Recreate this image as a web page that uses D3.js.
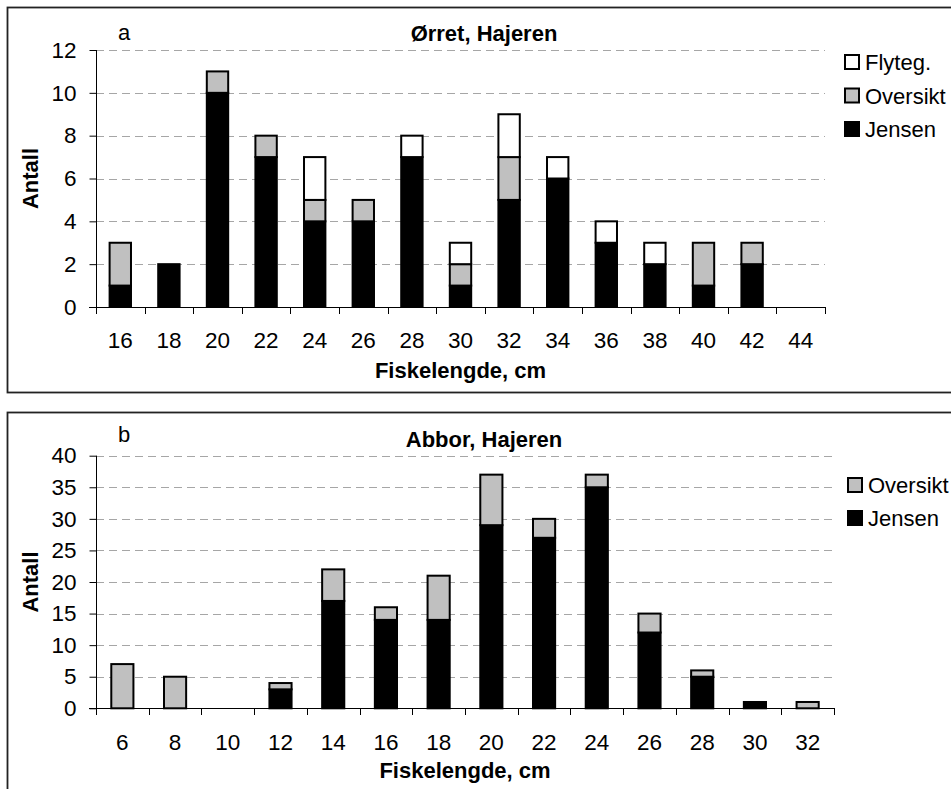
<!DOCTYPE html>
<html>
<head>
<meta charset="utf-8">
<script src="https://cdn.jsdelivr.net/npm/d3@7"></script>
<style>
  html, body { margin: 0; padding: 0; background: #fff; }
  svg { display: block; }
  text { font-family: "Liberation Sans", Arial, sans-serif; fill: #000; }
</style>
</head>
<body>
<svg id="chart" width="951" height="789"></svg>
<script>
// ---------- Data ----------
// Chart a: Ørret, Hajeren
const categoriesA = [16, 18, 20, 22, 24, 26, 28, 30, 32, 34, 36, 38, 40, 42, 44];
const jensenA     = [1, 2, 10, 7, 4, 4, 7, 1, 5, 6, 3, 2, 1, 2, 0];
const oversiktA   = [2, 0, 1, 1, 1, 1, 0, 1, 2, 0, 0, 0, 2, 1, 0];
const flytegA     = [0, 0, 0, 0, 2, 0, 1, 1, 2, 1, 1, 1, 0, 0, 0];
const yTicksA     = [0, 2, 4, 6, 8, 10, 12];

// Chart b: Abbor, Hajeren
const categoriesB = [6, 8, 10, 12, 14, 16, 18, 20, 22, 24, 26, 28, 30, 32];
const jensenB     = [0, 0, 0, 3, 17, 14, 14, 29, 27, 35, 12, 5, 1, 0];
const oversiktB   = [7, 5, 0, 1, 5, 2, 7, 8, 3, 2, 3, 1, 0, 1];
const yTicksB     = [0, 5, 10, 15, 20, 25, 30, 35, 40];

const seriesColors = { "Jensen": "#000000", "Oversikt": "#c0c0c0", "Flyteg.": "#ffffff" };

// ---------- Drawing ----------
const svg = d3.select("#chart");

function drawPanel(cfg) {
  const g = svg.append("g");

  // panel frame
  g.append("rect")
    .attr("x", 7.5).attr("y", cfg.boxTop)
    .attr("width", 1000).attr("height", cfg.boxHeight)
    .attr("fill", "none").attr("stroke", "#222").attr("stroke-width", 1.8);

  const keys = cfg.series.map(s => s.name);
  const rows = cfg.categories.map((c, i) => {
    const r = { cat: c };
    cfg.series.forEach(s => { r[s.name] = s.values[i]; });
    return r;
  });

  const pad = cfg.barPad;
  const x = d3.scaleBand()
    .domain(cfg.categories)
    .range([cfg.left, cfg.right])
    .paddingInner(pad).paddingOuter(pad / 2);
  const y = d3.scaleLinear()
    .domain([cfg.yTicks[0], cfg.yTicks[cfg.yTicks.length - 1]])
    .range([cfg.bottom, cfg.top]);

  // gridlines
  g.append("g").selectAll("line")
    .data(cfg.yTicks.filter(t => t > 0))
    .join("line")
    .attr("x1", cfg.left).attr("x2", cfg.right)
    .attr("y1", d => Math.round(y(d)) + 0.5).attr("y2", d => Math.round(y(d)) + 0.5)
    .attr("stroke", "#a6a6a6").attr("stroke-width", 1)
    .attr("stroke-dasharray", "8,5");

  // y axis
  const yAxis = g.append("g")
    .attr("transform", `translate(${cfg.left + 0.5},0)`)
    .call(d3.axisLeft(y).tickValues(cfg.yTicks).tickSize(7).tickPadding(13).tickSizeOuter(0));
  yAxis.select(".domain").remove();
  yAxis.selectAll(".tick line").attr("stroke", "#000");
  yAxis.selectAll("text").style("font-size", "22.5px").attr("fill", "#000");
  g.append("line")
    .attr("x1", cfg.left + 0.5).attr("x2", cfg.left + 0.5)
    .attr("y1", cfg.top).attr("y2", cfg.bottom)
    .attr("stroke", "#000");

  // stacked bars
  const stacked = d3.stack().keys(keys)(rows);
  g.append("g").selectAll("g")
    .data(stacked)
    .join("g")
    .attr("fill", d => seriesColors[d.key])
    .selectAll("rect")
    .data(d => d.filter(p => p[1] - p[0] > 0))
    .join("rect")
    .attr("x", d => x(d.data.cat))
    .attr("y", d => y(d[1]))
    .attr("width", x.bandwidth())
    .attr("height", d => y(d[0]) - y(d[1]))
    .attr("stroke", "#000").attr("stroke-width", 2);

  // x axis line & boundary ticks
  g.append("line")
    .attr("x1", cfg.left - 7).attr("x2", cfg.right)
    .attr("y1", Math.round(cfg.bottom) + 0.5).attr("y2", Math.round(cfg.bottom) + 0.5)
    .attr("stroke", "#000");
  const bounds = d3.range(cfg.categories.length + 1).map(k => cfg.left + k * x.step());
  g.append("g").selectAll("line")
    .data(bounds)
    .join("line")
    .attr("x1", d => Math.round(d) + 0.5).attr("x2", d => Math.round(d) + 0.5)
    .attr("y1", Math.round(cfg.bottom)).attr("y2", Math.round(cfg.bottom) + 7)
    .attr("stroke", "#000");

  const xAxis = g.append("g")
    .attr("transform", `translate(0,${cfg.bottom})`)
    .call(d3.axisBottom(x).tickSize(0).tickPadding(cfg.xLabelPad));
  xAxis.select(".domain").remove();
  xAxis.selectAll("text").style("font-size", "22.5px").attr("fill", "#000");

  // titles
  g.append("text")
    .attr("x", cfg.titleX).attr("y", cfg.titleY)
    .attr("text-anchor", "middle")
    .style("font-size", "22px").style("font-weight", "bold")
    .text(cfg.title);
  g.append("text")
    .attr("x", 118).attr("y", cfg.letterY)
    .style("font-size", "22px")
    .text(cfg.letter);
  g.append("text")
    .attr("x", (cfg.left + cfg.right) / 2).attr("y", cfg.bottom + cfg.xTitleOffset)
    .attr("text-anchor", "middle")
    .style("font-size", "22px").style("font-weight", "bold")
    .text("Fiskelengde, cm");
  g.append("text")
    .attr("transform", `translate(38,${(cfg.top + cfg.bottom) / 2}) rotate(-90)`)
    .attr("text-anchor", "middle")
    .style("font-size", "22px").style("font-weight", "bold")
    .text("Antall");

  // legend (reverse order: top series first)
  const legendItems = keys.slice().reverse();
  const lg = g.append("g");
  legendItems.forEach((k, i) => {
    const cy = cfg.legendTop + i * cfg.legendStep;
    lg.append("rect")
      .attr("x", cfg.legendX).attr("y", cy - 7)
      .attr("width", 14).attr("height", 14)
      .attr("fill", seriesColors[k])
      .attr("stroke", "#000").attr("stroke-width", 2);
    lg.append("text")
      .attr("x", cfg.legendX + 20).attr("y", cy + 8)
      .style("font-size", "22px")
      .text(k);
  });
}

drawPanel({
  boxTop: 7.5, boxHeight: 385,
  left: 96, right: 825, top: 50, bottom: 307,
  categories: categoriesA,
  series: [
    { name: "Jensen", values: jensenA },
    { name: "Oversikt", values: oversiktA },
    { name: "Flyteg.", values: flytegA }
  ],
  yTicks: yTicksA,
  barPad: 0.56,
  xLabelPad: 25,
  xTitleOffset: 71,
  title: "Ørret, Hajeren", titleX: 484, titleY: 41,
  letter: "a", letterY: 40,
  legendX: 845, legendTop: 62, legendStep: 33.5
});

drawPanel({
  boxTop: 412.5, boxHeight: 500,
  left: 96, right: 834, top: 455.7, bottom: 708.3,
  categories: categoriesB,
  series: [
    { name: "Jensen", values: jensenB },
    { name: "Oversikt", values: oversiktB }
  ],
  yTicks: yTicksB,
  barPad: 0.58,
  xLabelPad: 25.5,
  xTitleOffset: 70,
  title: "Abbor, Hajeren", titleX: 484, titleY: 447,
  letter: "b", letterY: 442,
  legendX: 848, legendTop: 485, legendStep: 33
});
</script>
</body>
</html>
